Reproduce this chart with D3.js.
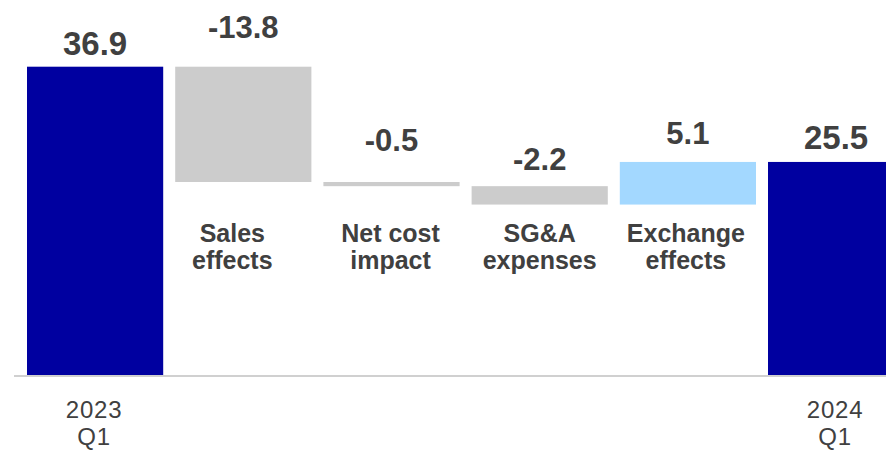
<!DOCTYPE html>
<html>
<head>
<meta charset="utf-8">
<script src="https://cdn.jsdelivr.net/npm/d3@7"></script>
<style>
  html, body { margin: 0; padding: 0; background: #fff; overflow: hidden; }
  svg { display: block; }
  text { font-family: "Liberation Sans", Arial, sans-serif; fill: #404040; }
</style>
</head>
<body>
<svg id="chart" width="886" height="451"></svg>
<script>
// ---- data ----
const categories = ["2023 Q1", "Sales effects", "Net cost impact", "SG&A expenses", "Exchange effects", "2024 Q1"];
const catLines = [["2023", "Q1"], ["Sales", "effects"], ["Net cost", "impact"], ["SG&A", "expenses"], ["Exchange", "effects"], ["2024", "Q1"]];
const kinds = ["total", "delta", "delta", "delta", "delta", "total"];
const values = [36.9, -13.8, -0.5, -2.2, 5.1, 25.5];
const valueLabels = ["36.9", "-13.8", "-0.5", "-2.2", "5.1", "25.5"];

// ---- layout / style ----
const W = 886, H = 451;
const baseY = 375, topY = 66.7;
const step = 148.2, gap = 12, x0 = 27;
const labelLift = [11.7, 28.4, 31, 16.6, 17.7, 13.4];
const catNudge = [-1, -11, -1, 0, -2, -1];
const colors = { total: "#0000a0", neg: "#cccccc", pos: "#a3d8ff" };

const svg = d3.select("#chart");

const x = d3.scaleBand()
  .domain(categories)
  .range([x0, x0 + step * (categories.length) - gap])
  .paddingInner(gap / step)
  .paddingOuter(0);

const y = d3.scaleLinear().domain([0, values[0]]).range([baseY, topY]);

// waterfall geometry
let running = 0;
const bars = categories.map((c, i) => {
  let lo, hi;
  if (kinds[i] === "total") { lo = 0; hi = values[i]; running = values[i]; }
  else { const s = running; running = running + values[i]; lo = Math.min(s, running); hi = Math.max(s, running); }
  const color = kinds[i] === "total" ? colors.total : (values[i] < 0 ? colors.neg : colors.pos);
  return { c, i, lo, hi, color };
});

svg.append("g").selectAll("rect").data(bars).join("rect")
  .attr("x", d => x(d.c))
  .attr("width", x.bandwidth())
  .attr("y", d => y(d.hi))
  .attr("height", d => y(d.lo) - y(d.hi))
  .attr("fill", d => d.color);

// baseline
svg.append("path")
  .attr("d", d3.line()([[14, baseY + 1], [W, baseY + 1]]))
  .attr("stroke", "#c8c8c8")
  .attr("stroke-opacity", 0.85)
  .attr("stroke-width", 2)
  .attr("fill", "none");

// value labels
svg.append("g").selectAll("text").data(bars).join("text")
  .attr("x", d => x(d.c) + x.bandwidth() / 2)
  .attr("y", d => y(d.hi) - labelLift[d.i])
  .attr("text-anchor", "middle")
  .attr("font-weight", "bold")
  .attr("font-size", d => kinds[d.i] === "total" ? 33 : 31)
  .text(d => valueLabels[d.i]);

// category labels
const cat = svg.append("g").selectAll("text").data(bars).join("text")
  .attr("text-anchor", "middle")
  .attr("font-weight", d => kinds[d.i] === "total" ? "normal" : "bold")
  .attr("font-size", d => kinds[d.i] === "total" ? 24 : 25)
  .attr("letter-spacing", d => kinds[d.i] === "total" ? 0.8 : 0)
  .attr("y", d => kinds[d.i] === "total" ? 418.3 : 241.7);

cat.each(function(d) {
  const t = d3.select(this);
  const lh = kinds[d.i] === "total" ? 26.7 : 27.6;
  const cx = x(d.c) + x.bandwidth() / 2 + catNudge[d.i];
  catLines[d.i].forEach((ln, k) => {
    t.append("tspan")
      .attr("x", cx)
      .attr("dy", k === 0 ? 0 : lh)
      .text(ln);
  });
});
</script>
</body>
</html>
